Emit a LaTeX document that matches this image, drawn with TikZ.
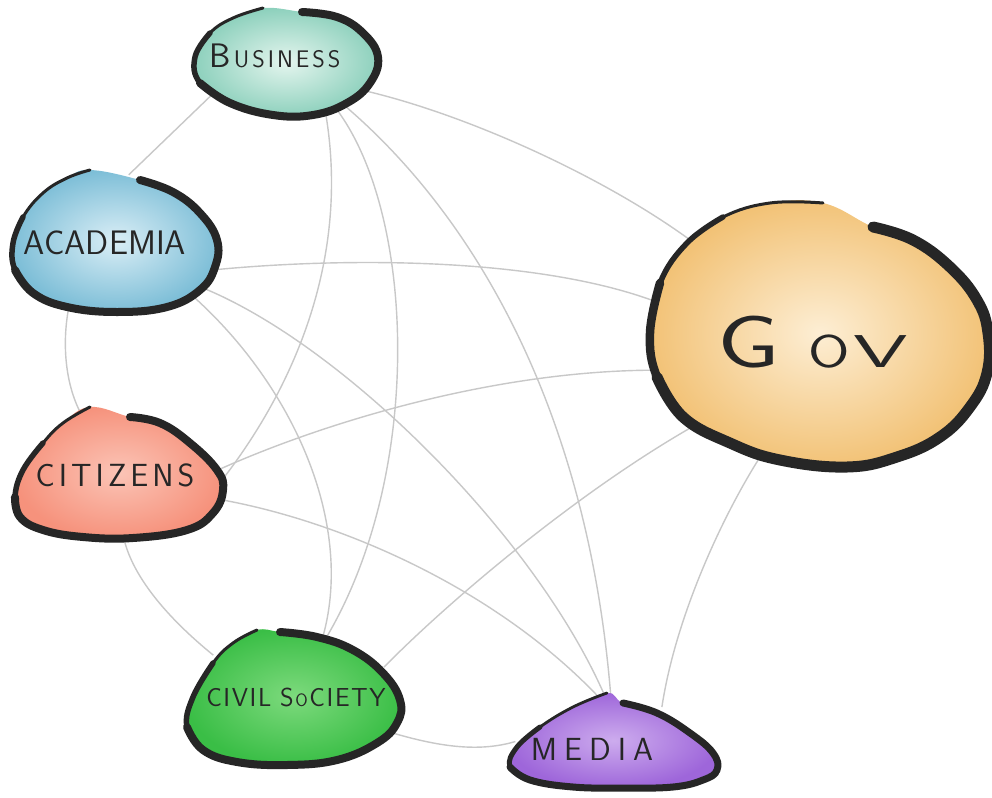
\documentclass[tikz,border=0pt]{standalone}
\usepackage{fontspec}
\usepackage{graphicx}
\usetikzlibrary{shapes.geometric}
\pgfdeclarelayer{paper}
\pgfdeclarelayer{edges}
\pgfdeclarelayer{blobs}
\pgfsetlayers{paper,edges,blobs,main}

\definecolor{ink}{RGB}{38,38,38}
\definecolor{wire}{RGB}{200,200,200}
\definecolor{busout}{RGB}{140,208,188}
\definecolor{busin}{RGB}{228,245,238}
\definecolor{acaout}{RGB}{125,190,215}
\definecolor{acain}{RGB}{218,238,246}
\definecolor{citout}{RGB}{246,146,124}
\definecolor{citin}{RGB}{251,196,182}
\definecolor{csout}{RGB}{58,190,70}
\definecolor{csin}{RGB}{125,218,125}
\definecolor{medout}{RGB}{158,102,218}
\definecolor{medin}{RGB}{205,172,238}
\definecolor{govout}{RGB}{242,194,118}
\definecolor{govin}{RGB}{253,238,212}

% gap between hand-lettered capitals
\newlength\lgap
\newcommand\g{\hspace{\lgap}}

\begin{document}
\begin{tikzpicture}[x=1pt,y=-1pt,
  hub/.style={ellipse, inner sep=0pt, outer sep=0pt},
  tag/.style={font=\sffamily, text=ink, inner sep=0pt},
  wirestyle/.style={draw=wire, line width=1.4pt},
  rim/.style={draw=ink, line cap=round, line join=round}]

\useasboundingbox (0,0) rectangle (992,797);
\begin{pgfonlayer}{paper}
  \fill[white] (0,0) rectangle (992,797);
\end{pgfonlayer}

% ---------- stakeholder hubs (names and texts) ----------
\node[hub, minimum width=184pt, minimum height=106pt,
  label={[tag, name=bus-t, xshift=-10pt, yshift=6pt]center:{\setlength\lgap{3pt}\fontsize{34pt}{34pt}\selectfont B\g\fontsize{24pt}{24pt}\selectfont U\g S\g I\g N\g E\g S\g S}}]
  (bus) at (285,62) {};
\node[hub, minimum width=208pt, minimum height=138pt,
  label={[tag, name=aca-t, xshift=-8pt]center:{\fontsize{34pt}{34pt}\selectfont ACADEMIA}}]
  (aca) at (113,243) {};
\node[hub, minimum width=206pt, minimum height=128pt,
  label={[tag, name=cit-t, xshift=-3pt, yshift=3pt]center:{\setlength\lgap{4pt}\fontsize{32pt}{32pt}\selectfont C\g I\g T\g I\g Z\g E\g N\g S}}]
  (cit) at (118,478) {};
\node[hub, minimum width=208pt, minimum height=128pt,
  label={[tag, name=cs-t, xshift=4pt]center:{\setlength\lgap{1.6pt}\fontsize{26pt}{26pt}\selectfont C\g I\g V\g I\g L\hspace{9pt}S\g{\fontsize{18pt}{18pt}\selectfont O}\g C\g I\g E\g T\g Y}}]
  (cs) at (292,697) {};
\node[hub, minimum width=200pt, minimum height=86pt,
  label={[tag, name=med-t, xshift=-23pt, yshift=-4pt]center:{\setlength\lgap{7pt}\fontsize{32pt}{32pt}\selectfont M\g E\g D\g I\g A}}]
  (med) at (615,745) {};
\node[hub, minimum width=336pt, minimum height=262pt,
  label={[tag, name=gov-t, xshift=-5pt, yshift=-9pt]center:{\fontsize{74pt}{74pt}\selectfont\scalebox{1.35}[1]{G}}\hspace{28pt}{\fontsize{46pt}{46pt}\selectfont\scalebox{1.3}[1]{O}\hspace{4pt}\scalebox{1.9}[1]{V}}}]
  (gov) at (818,333) {};

% ---------- links between every pair ----------
\begin{pgfonlayer}{edges}
  \draw[wirestyle] (bus.204) -- (aca.77);
  \draw[wirestyle] (bus.-20) .. controls (470,115) and (610,180) .. (gov.144);
  \draw[wirestyle] (bus.-50) .. controls (350,250) and (300,380) .. (cit.-2);
  \draw[wirestyle] (bus.-42) .. controls (415,210) and (425,470) .. (cs.60);
  \draw[wirestyle] (bus.-36) .. controls (480,220) and (590,420) .. (med.95);
  \draw[wirestyle] (aca.-16) .. controls (330,258) and (530,255) .. (gov.169);
  \draw[wirestyle] (aca.-27) .. controls (340,340) and (540,540) .. (med.100);
  \draw[wirestyle] (aca.-33) .. controls (290,380) and (355,520) .. (cs.63);
  \draw[wirestyle] (aca.-125) .. controls (62,340) and (64,385) .. (cit.120);
  \draw[wirestyle] (cit.5) .. controls (330,420) and (500,370) .. (gov.193);
  \draw[wirestyle] (cit.-12) .. controls (340,520) and (500,590) .. (med.105);
  \draw[wirestyle] (cit.-84) .. controls (135,580) and (170,620) .. (cs.152);
  \draw[wirestyle] (cs.18) .. controls (450,600) and (580,490) .. (gov.217);
  \draw[wirestyle] (cs.-20) .. controls (440,748) and (480,752) .. (med.178);
  \draw[wirestyle] (med.39) .. controls (675,620) and (720,520) .. (gov.245);
\end{pgfonlayer}

% ---------- painted blobs with brush rims ----------
\begin{pgfonlayer}{blobs}
  % Business
  \shade[inner color=busin, outer color=busout] plot[smooth cycle, tension=.7] coordinates
    {(302,12) (337,17) (363,33) (378,57) (370,83) (347,103) (313,115) (273,115) (230,103) (200,83) (195,57) (210,33) (233,18) (263,8)};
  \draw[rim, line width=8pt] plot[smooth, tension=.7] coordinates
    {(302,12) (337,17) (363,33) (378,57) (370,83) (347,103) (313,115) (273,115) (230,103) (200,83)};
  \draw[rim, line width=5.5pt] plot[smooth, tension=.7] coordinates {(230,103) (200,83) (195,57) (210,33)};
  \draw[rim, line width=3pt] plot[smooth, tension=.7] coordinates {(195,57) (210,33) (233,18) (263,8)};

  % Academia
  \shade[inner color=acain, outer color=acaout] plot[smooth cycle, tension=.7] coordinates
    {(140,180) (173,192) (200,213) (217,240) (215,267) (200,290) (167,307) (117,312) (67,307) (33,293) (15,270) (13,243) (23,217) (43,193) (67,178) (90,170)};
  \draw[rim, line width=8pt] plot[smooth, tension=.7] coordinates
    {(140,180) (173,192) (200,213) (217,240) (215,267) (200,290) (167,307) (117,312) (67,307) (33,293) (15,270)};
  \draw[rim, line width=5.5pt] plot[smooth, tension=.7] coordinates {(33,293) (15,270) (13,243) (23,217)};
  \draw[rim, line width=3pt] plot[smooth, tension=.7] coordinates {(13,243) (23,217) (43,193) (67,178) (90,170)};

  % Citizens
  \shade[inner color=citin, outer color=citout] plot[smooth cycle, tension=.7] coordinates
    {(130,417) (160,423) (190,443) (217,470) (223,490) (213,513) (187,530) (133,538) (83,537) (43,530) (20,517) (15,497) (23,470) (43,443) (63,423) (90,407)};
  \draw[rim, line width=8pt] plot[smooth, tension=.7] coordinates
    {(130,417) (160,423) (190,443) (217,470) (223,490) (213,513) (187,530) (133,538) (83,537) (43,530) (20,517) (15,497)};
  \draw[rim, line width=5.5pt] plot[smooth, tension=.7] coordinates {(20,517) (15,497) (23,470) (43,443)};
  \draw[rim, line width=3pt] plot[smooth, tension=.7] coordinates {(23,470) (43,443) (63,423) (90,407)};

  % Civil Society
  \shade[inner color=csin, outer color=csout] plot[smooth cycle, tension=.7] coordinates
    {(280,632) (317,637) (353,650) (383,673) (400,700) (397,723) (377,743) (337,760) (287,765) (237,762) (203,750) (187,727) (193,697) (213,663) (233,643) (257,630)};
  \draw[rim, line width=8pt] plot[smooth, tension=.7] coordinates
    {(280,632) (317,637) (353,650) (383,673) (400,700) (397,723) (377,743) (337,760) (287,765) (237,762) (203,750) (187,727)};
  \draw[rim, line width=5.5pt] plot[smooth, tension=.7] coordinates {(203,750) (187,727) (193,697) (213,663)};
  \draw[rim, line width=3pt] plot[smooth, tension=.7] coordinates {(193,697) (213,663) (233,643) (257,630)};

  % Media
  \shade[inner color=medin, outer color=medout] plot[smooth cycle, tension=.7] coordinates
    {(623,703) (657,713) (690,733) (713,753) (717,770) (703,780) (673,787) (623,788) (573,787) (530,780) (510,767) (517,747) (540,727) (573,707) (607,693)};
  \draw[rim, line width=7pt] plot[smooth, tension=.7] coordinates
    {(623,703) (657,713) (690,733) (713,753) (717,770) (703,780) (673,787) (623,788) (573,787) (530,780) (510,767)};
  \draw[rim, line width=5pt] plot[smooth, tension=.7] coordinates {(530,780) (510,767) (517,747) (540,727)};
  \draw[rim, line width=2.8pt] plot[smooth, tension=.7] coordinates {(517,747) (540,727) (573,707) (607,693)};

  % Gov
  \shade[inner color=govin, outer color=govout] plot[smooth cycle, tension=.7] coordinates
    {(873,227) (913,240) (950,267) (977,300) (988,333) (987,373) (970,407) (940,437) (897,457) (847,467) (780,460) (730,443) (683,417) (657,377) (650,333) (660,283) (687,243) (723,217) (770,203) (823,203)};
  \draw[rim, line width=11pt] plot[smooth, tension=.7] coordinates
    {(873,227) (913,240) (950,267) (977,300) (988,333) (987,373) (970,407) (940,437) (897,457) (847,467) (780,460) (730,443) (683,417) (657,377)};
  \draw[rim, line width=8.5pt] plot[smooth, tension=.7] coordinates {(683,417) (657,377) (650,333) (660,283)};
  \draw[rim, line width=5.5pt] plot[smooth, tension=.7] coordinates {(650,333) (660,283) (687,243) (723,217)};
  \draw[rim, line width=3pt] plot[smooth, tension=.7] coordinates {(687,243) (723,217) (770,203) (823,203)};
\end{pgfonlayer}
\end{tikzpicture}
\end{document}
